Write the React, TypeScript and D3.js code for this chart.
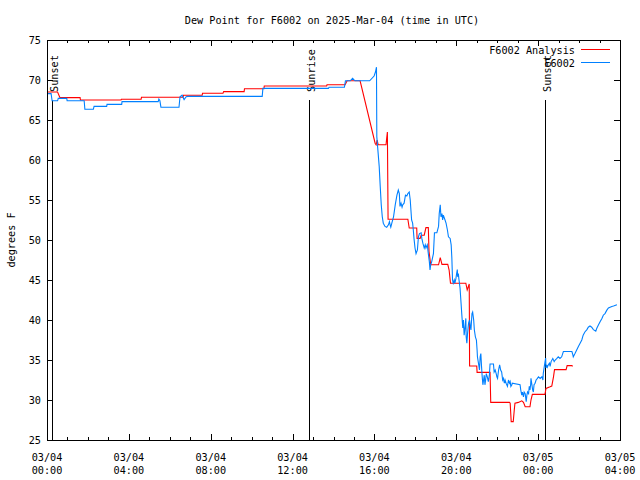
import React from "react";
import * as d3 from "d3";

const TITLE = "Dew Point for F6002 on 2025-Mar-04 (time in UTC)";
const Y_LABEL = "degrees F";
const SERIES_NAMES = ["F6002 Analysis", "F6002"];
const SERIES_COLORS = ["#ff0000", "#0080ff"];

// minutes after 03/04 00:00 UTC, value in degrees F
const analysisSeries: [number, number][] = [
  [0, 68.5], [31, 68.5], [38, 67.8], [97, 67.8], [98, 67.5], [217, 67.5], [218, 67.6], [276, 67.6],
  [277, 67.85], [399, 67.85], [400, 68.1], [455, 68.1], [456, 68.35], [516, 68.35], [518, 68.55],
  [578, 68.55], [579, 68.9], [636, 68.9], [637, 69.25], [820, 69.25], [821, 69.4], [874, 69.4],
  [880, 69.9], [918, 69.9], [962, 62.1], [965, 61.9], [968, 62.5], [971, 61.9], [994, 61.9],
  [996, 62.75], [998, 63.5], [1000, 52.6], [1058, 52.6], [1062, 51.5], [1084, 51.5], [1085, 50.2],
  [1094, 50.2], [1097, 50.6], [1106, 50.6], [1111, 51.55], [1118, 51.55], [1120, 48.6], [1125, 46.9],
  [1148, 46.9], [1153, 47.8], [1158, 46.95], [1175, 46.95], [1179, 46.25], [1183, 44.6], [1228, 44.6],
  [1232, 43.75], [1238, 44.5], [1239, 34.25], [1260, 34.25], [1261, 33.45], [1299, 33.45], [1301, 29.7],
  [1356, 29.7], [1358, 29.6], [1361, 27.3], [1367, 27.3], [1370, 28.75], [1372, 29.6], [1382, 29.7],
  [1392, 29.9], [1397, 29.7], [1402, 29.15], [1416, 29.15], [1419, 30.0], [1423, 30.7], [1460, 30.7],
  [1463, 31.45], [1475, 31.65], [1480, 31.75], [1485, 32.9], [1488, 33.8], [1522, 33.8], [1525, 34.3],
  [1539, 34.3], [1541, 34.2],
];

const stationSeries: [number, number][] = [
  [0, 68.3], [12, 68.3], [15, 67.4], [31, 67.4], [33, 67.7], [58, 67.7], [59, 67.4], [109, 67.4],
  [111, 66.35], [136, 66.35], [138, 66.7], [175, 66.7], [176, 66.95], [219, 66.95], [220, 67.3],
  [326, 67.3], [328, 67.6], [331, 67.4], [334, 66.6], [387, 66.6], [390, 67.9], [396, 68.1],
  [402, 67.55], [408, 67.9], [413, 67.95], [631, 67.95], [633, 68.95], [825, 68.95], [827, 69.1],
  [872, 69.1], [875, 69.9], [889, 69.9], [896, 70.2], [903, 69.9], [946, 69.9], [959, 70.5],
  [963, 71.0], [966, 71.6], [967, 62.9], [974, 59.2], [977, 56.7], [980, 54.4], [983, 52.9],
  [986, 52.1], [991, 51.7], [996, 51.6], [1001, 51.9], [1004, 52.3], [1006, 51.9], [1008, 51.6],
  [1011, 52.1], [1016, 52.9], [1021, 54.4], [1026, 55.6], [1030, 56.25], [1033, 55.8], [1035, 54.2],
  [1038, 54.6], [1041, 54.1], [1043, 54.4], [1047, 54.6], [1051, 55.6], [1055, 55.5], [1058, 55.8],
  [1062, 56.0], [1065, 55.0], [1067, 53.75], [1069, 52.5], [1072, 52.1], [1074, 51.25], [1076, 50.2],
  [1079, 49.0], [1082, 48.3], [1086, 48.75], [1089, 50.4], [1092, 50.8], [1097, 50.9], [1099, 50.2],
  [1102, 49.6], [1106, 49.0], [1109, 49.4], [1111, 49.0], [1115, 49.4], [1118, 48.3], [1121, 47.3],
  [1123, 46.25], [1125, 46.9], [1128, 47.3], [1133, 48.3], [1136, 50.9], [1143, 50.9], [1148, 51.7],
  [1150, 53.3], [1153, 54.4], [1155, 52.9], [1158, 53.3], [1160, 52.5], [1162, 53.1], [1167, 52.5],
  [1170, 52.1], [1174, 51.25], [1177, 50.4], [1182, 50.2], [1185, 49.4], [1187, 47.75], [1189, 45.0],
  [1191, 44.6], [1194, 45.0], [1196, 44.6], [1199, 45.2], [1201, 45.8], [1203, 46.3], [1204, 45.4],
  [1206, 45.8], [1208, 45.0], [1211, 44.0], [1214, 42.1], [1216, 40.8], [1219, 39.0], [1221, 40.0],
  [1223, 38.1], [1226, 39.2], [1228, 40.2], [1229, 37.9], [1231, 37.1], [1233, 38.3], [1236, 39.6],
  [1239, 40.0], [1241, 39.2], [1243, 38.75], [1246, 40.8], [1248, 41.0], [1251, 40.0], [1253, 38.75],
  [1256, 37.9], [1259, 37.5], [1261, 36.25], [1262, 35.4], [1265, 34.6], [1268, 33.75], [1270, 35.4],
  [1272, 35.8], [1274, 34.2], [1276, 32.9], [1278, 31.9], [1280, 32.5], [1282, 33.1], [1284, 31.9],
  [1286, 32.5], [1288, 33.3], [1291, 32.9], [1294, 32.3], [1297, 33.1], [1299, 34.5], [1309, 34.5],
  [1311, 33.5], [1314, 33.75], [1317, 33.3], [1319, 32.9], [1321, 32.7], [1324, 33.75], [1327, 34.4],
  [1328, 34.2], [1330, 33.75], [1333, 33.5], [1336, 32.5], [1338, 32.7], [1341, 32.1], [1343, 32.5],
  [1346, 32.1], [1348, 31.9], [1350, 31.7], [1353, 32.5], [1356, 32.1], [1358, 32.3], [1360, 31.7],
  [1363, 31.9], [1364, 32.1], [1387, 31.9], [1389, 31.25], [1392, 30.6], [1394, 31.0], [1397, 30.4],
  [1399, 31.0], [1402, 30.8], [1405, 29.8], [1407, 30.6], [1409, 31.0], [1412, 30.8], [1414, 31.7],
  [1416, 31.25], [1418, 31.9], [1419, 32.7], [1421, 32.1], [1424, 31.25], [1426, 31.0], [1428, 31.9],
  [1431, 32.1], [1434, 32.5], [1438, 32.7], [1441, 32.9], [1446, 32.7], [1451, 32.9], [1454, 32.5],
  [1455, 33.3], [1457, 33.9], [1460, 34.75], [1462, 35.25], [1463, 34.0], [1465, 34.4], [1467, 34.1],
  [1470, 34.4], [1473, 34.6], [1475, 34.2], [1478, 34.8], [1483, 35.2], [1487, 34.8], [1490, 35.0],
  [1495, 35.2], [1499, 35.4], [1504, 35.2], [1509, 35.4], [1512, 35.8], [1514, 36.06], [1539, 36.06],
  [1542, 35.6], [1543, 35.4], [1548, 35.8], [1553, 36.25], [1558, 36.7], [1563, 37.1], [1568, 37.5],
  [1572, 38.1], [1577, 38.5], [1583, 38.8], [1587, 39.1], [1592, 39.25], [1597, 39.1], [1602, 38.8],
  [1609, 38.6], [1612, 38.96], [1617, 39.4], [1622, 39.8], [1627, 40.2], [1631, 40.6], [1636, 40.8],
  [1641, 41.2], [1646, 41.5], [1651, 41.6], [1656, 41.7], [1661, 41.75], [1671, 41.9],
];

const sunLabels = ["Sunset", "Sunrise", "Sunset"];
const sunMinutes = [15, 768, 1460];
const SUN_LINE_TOP = 67.5;

const xTickMinutes = [0, 240, 480, 720, 960, 1200, 1440, 1680];
const xTickDates = ["03/04", "03/04", "03/04", "03/04", "03/04", "03/04", "03/05", "03/05"];
const xTickTimes = ["00:00", "04:00", "08:00", "12:00", "16:00", "20:00", "00:00", "04:00"];
const yTicks = [25, 30, 35, 40, 45, 50, 55, 60, 65, 70, 75];

const FONT = "'DejaVu Sans Mono', monospace";
const FS = 10.2;

export default function App() {
  const L = 47, R = 620, T = 40, B = 440;
  const x = d3.scaleLinear().domain([0, 1680]).range([L, R]);
  const y = d3.scaleLinear().domain([25, 75]).range([B, T]);
  const line = d3.line<[number, number]>().x((d) => x(d[0])).y((d) => y(d[1]));
  const minorX = d3.range(0, 1681, 60);

  return (
    <svg width={640} height={480} style={{ position: "absolute", left: 0, top: 0, background: "#fff" }}
      fontFamily={FONT} fontSize={FS}>
      <rect x={0} y={0} width={640} height={480} fill="#fff" />
      <text x={332} y={24} textAnchor="middle" fill="#000">{TITLE}</text>

      {/* x ticks */}
      {minorX.map((m) => {
        const major = m % 240 === 0;
        const len = major ? 6 : 3;
        const xx = Math.round(x(m)) + 0.5;
        return (
          <g key={"xt" + m} stroke="#000" strokeWidth={1} shapeRendering="crispEdges">
            <line x1={xx} x2={xx} y1={B} y2={B - len} />
            <line x1={xx} x2={xx} y1={T} y2={T + len} />
          </g>
        );
      })}
      {xTickMinutes.map((m, i) => (
        <g key={"xl" + m}>
          <text x={x(m)} y={461} textAnchor="middle" fill="#000">{xTickDates[i]}</text>
          <text x={x(m)} y={474} textAnchor="middle" fill="#000">{xTickTimes[i]}</text>
        </g>
      ))}

      {/* y ticks */}
      {yTicks.map((v) => {
        const yy = Math.round(y(v)) + 0.5;
        return (
          <g key={"yt" + v}>
            <line x1={L} x2={L + 6} y1={yy} y2={yy} stroke="#000" shapeRendering="crispEdges" />
            <line x1={R - 6} x2={R} y1={yy} y2={yy} stroke="#000" shapeRendering="crispEdges" />
            <text x={41} y={y(v) + 4} textAnchor="end" fill="#000">{v}</text>
          </g>
        );
      })}

      <text transform={`translate(15,${240}) rotate(-90)`} textAnchor="middle" fill="#000">{Y_LABEL}</text>

      {/* sun lines */}
      {sunMinutes.map((m, i) => {
        const xx = Math.round(x(m)) + 0.5;
        return (
          <g key={"sun" + i}>
            <line x1={xx} x2={xx} y1={y(SUN_LINE_TOP)} y2={B} stroke="#000" strokeWidth={1} shapeRendering="crispEdges" />
            <text transform={`translate(${xx + 5},92) rotate(-90)`} textAnchor="start" fill="#000">{sunLabels[i]}</text>
          </g>
        );
      })}

      {/* series */}
      <path d={line(analysisSeries) || ""} fill="none" stroke={SERIES_COLORS[0]} strokeWidth={1.1} />
      <path d={line(stationSeries) || ""} fill="none" stroke={SERIES_COLORS[1]} strokeWidth={1.1} />

      {/* legend */}
      <text x={575} y={54} textAnchor="end" fill="#000">{SERIES_NAMES[0]}</text>
      <line x1={581} x2={610} y1={49.5} y2={49.5} stroke={SERIES_COLORS[0]} strokeWidth={1} />
      <text x={575} y={67} textAnchor="end" fill="#000">{SERIES_NAMES[1]}</text>
      <line x1={581} x2={610} y1={62.5} y2={62.5} stroke={SERIES_COLORS[1]} strokeWidth={1} />

      {/* border */}
      <rect x={L + 0.5} y={T + 0.5} width={R - L} height={B - T} fill="none" stroke="#000" strokeWidth={1} shapeRendering="crispEdges" />
    </svg>
  );
}
